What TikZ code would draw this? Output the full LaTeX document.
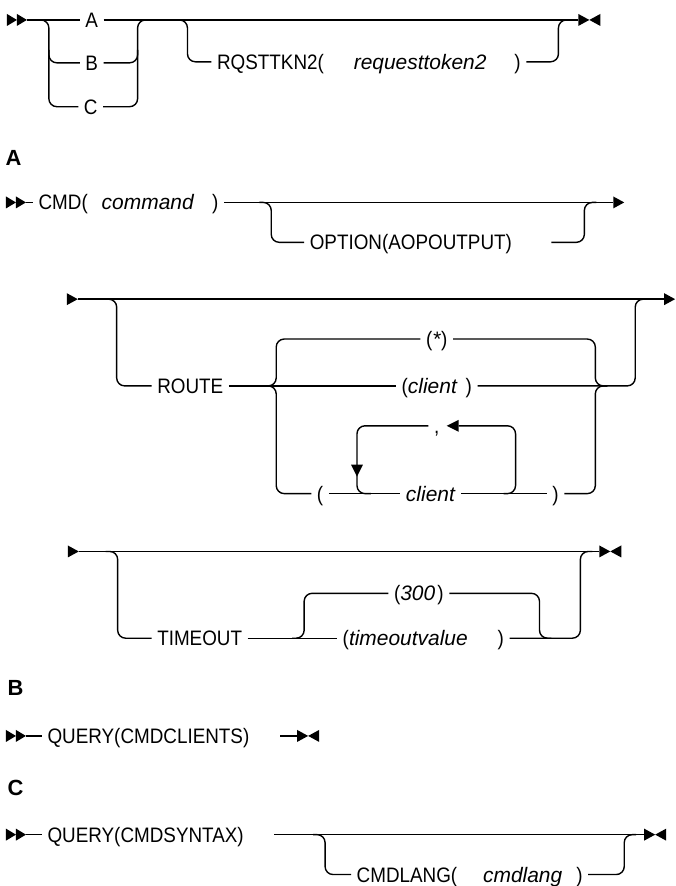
\documentclass[tikz,border=0pt]{standalone}
\usepackage{fontspec}
\setmainfont{Liberation Sans}[UprightFeatures={FakeStretch=0.9}]
\usetikzlibrary{arrows.meta}
\tikzset{
  pics/dblstart/.style={code={\fill (0,-6)--(10,0)--(0,6)--cycle; \fill (10,-6)--(20,0)--(10,6)--cycle;}},
  pics/endmark/.style={code={\fill (0,-6)--(11,0)--(0,6)--cycle; \fill (22,-6)--(11,0)--(22,6)--cycle;}},
  pics/contarrow/.style={code={\fill (0,-6)--(11,0)--(0,6)--cycle;}},
}
\begin{document}
\begin{tikzpicture}[x=1pt,y=-1pt,line width=1.4pt,
  font=\fontsize{21}{24}\selectfont,
  txt/.style={inner xsep=5pt,inner ysep=0pt,text height=19pt,text depth=4pt},
  rr/.style={rounded corners=8pt},
  sect/.style={anchor=west,inner sep=0pt,font=\bfseries\fontsize{22}{24}\selectfont}]
\path[fill=white] (0,0) rectangle (672,886);
% ---------- top row
\pic at (7,20) {dblstart};
\node[txt] (A) at (92,20) {A};
\node[txt] (B) at (92,63) {B};
\node[txt] (C) at (91,107) {C};
\draw (27,20) -- (A.west);
\draw (A.east) -- (580,20);
\draw[rr] (35,20) -- (49,20) -- (49,107) -- (C.west);
\draw[rr] (49,50) -- (49,63) -- (B.west);
\draw[rr] (C.east) -- (138,107) -- (138,20) -- (152,20);
\draw[rr] (B.east) -- (138,63) -- (138,50);
\node[txt,anchor=west] (R) at (212,62) {RQSTTKN2(\hspace{30pt}\textit{requesttoken2}\hspace{28pt})};
\draw[rr] (176,20) -- (188,20) -- (188,62) -- (R.west);
\draw[rr] (R.east) -- (560,62) -- (560,20) -- (572,20);
\pic at (580,20) {endmark};
% ---------- A
\node[sect] (labA) at (5,158) {A};
\pic at (6,203) {dblstart};
\node[txt,anchor=west] (CMD) at (33,203) {CMD(\hspace{14pt}\textit{command}\hspace{18pt})};
\draw (26,203) -- (CMD.west);
\draw (CMD.east) -- (615,203);
\pic at (615,203) {contarrow};
\node[txt,anchor=west] (OPT) at (305,243) {OPTION(AOPOUTPUT)};
\draw[rr] (260,203) -- (272,203) -- (272,243) -- (OPT.west);
\draw[rr] (553,243) -- (586,243) -- (586,203) -- (598,203);
% ---------- ROUTE
\pic at (67,300) {contarrow};
\draw (78,300) -- (666,300);
\pic at (666,300) {contarrow};
\node[txt,anchor=west] (ROUTE) at (152,387) {ROUTE};
\draw[rr] (105,300) -- (117,300) -- (117,387) -- (ROUTE.west);
\node[txt] (STAR) at (438,340) {(\textit{*})};
\node[txt] (CLI) at (438,387) {(\textit{client}\hspace{8pt})};
\node[txt] (OPEN) at (321,495) {(};
\node[txt] (CLB) at (432,495) {\textit{client}};
\node[txt] (CLOSE) at (557,495) {)};
\node[txt] (COMMA) at (438,427) {,};
\draw (ROUTE.east) -- (CLI.west);
\draw[rr] (265,387) -- (277,387) -- (277,340) -- (STAR.west);
\draw[rr] (265,387) -- (277,387) -- (277,495) -- (OPEN.west);
\draw[rr] (STAR.east) -- (597,340) -- (597,387) -- (609,387);
\draw[rr] (CLOSE.east) -- (597,495) -- (597,387) -- (609,387);
\draw[rr] (CLI.east) -- (637,387) -- (637,300) -- (649,300);
\draw (OPEN.east) -- (CLB.west);
\draw (CLB.east) -- (CLOSE.west);
\draw[rr] (505,495) -- (517,495) -- (517,427) -- (460,427);
\fill (448,427) -- (460,421) -- (460,433) -- cycle;
\draw[rr] (COMMA.west) -- (358,427) -- (358,468);
\fill (358,478) -- (352,466) -- (364,466) -- cycle;
\draw[rr] (358,470) -- (358,495) -- (372,495);
% ---------- TIMEOUT
\pic at (68,553) {contarrow};
\draw (79,553) -- (601,553);
\pic at (601,553) {endmark};
\node[txt,anchor=west] (TO) at (152,640) {TIMEOUT};
\draw[rr] (106,553) -- (118,553) -- (118,640) -- (TO.west);
\node[txt] (T300) at (420,595) {(\textit{300}\hspace{2pt})};
\node[txt,anchor=west] (TV) at (338,640) {(\textit{timeoutvalue}\hspace{30pt})};
\draw (TO.east) -- (TV.west);
\draw[rr] (293,640) -- (305,640) -- (305,595) -- (T300.west);
\draw[rr] (T300.east) -- (541,595) -- (541,640) -- (553,640);
\draw[rr] (TV.east) -- (582,640) -- (582,553) -- (594,553);
% ---------- B
\node[sect] (labB) at (7,690) {B};
\pic at (6,738) {dblstart};
\node[txt,anchor=west] (QC) at (42,738) {QUERY(CMDCLIENTS)};
\draw (26,738) -- (QC.west);
\draw (281,738) -- (298,738);
\pic at (298,738) {endmark};
% ---------- C
\node[sect] (labC) at (7,790) {C};
\pic at (6,837) {dblstart};
\node[txt,anchor=west] (QS) at (42,837) {QUERY(CMDSYNTAX)};
\draw (26,837) -- (QS.west);
\draw (275,837) -- (646,837);
\pic at (646,837) {endmark};
\node[txt,anchor=west] (CL) at (352,877) {CMDLANG(\hspace{26pt}\textit{cmdlang}\hspace{14pt})};
\draw[rr] (314,837) -- (326,837) -- (326,877) -- (CL.west);
\draw[rr] (CL.east) -- (626,877) -- (626,837) -- (638,837);
\end{tikzpicture}
\end{document}
